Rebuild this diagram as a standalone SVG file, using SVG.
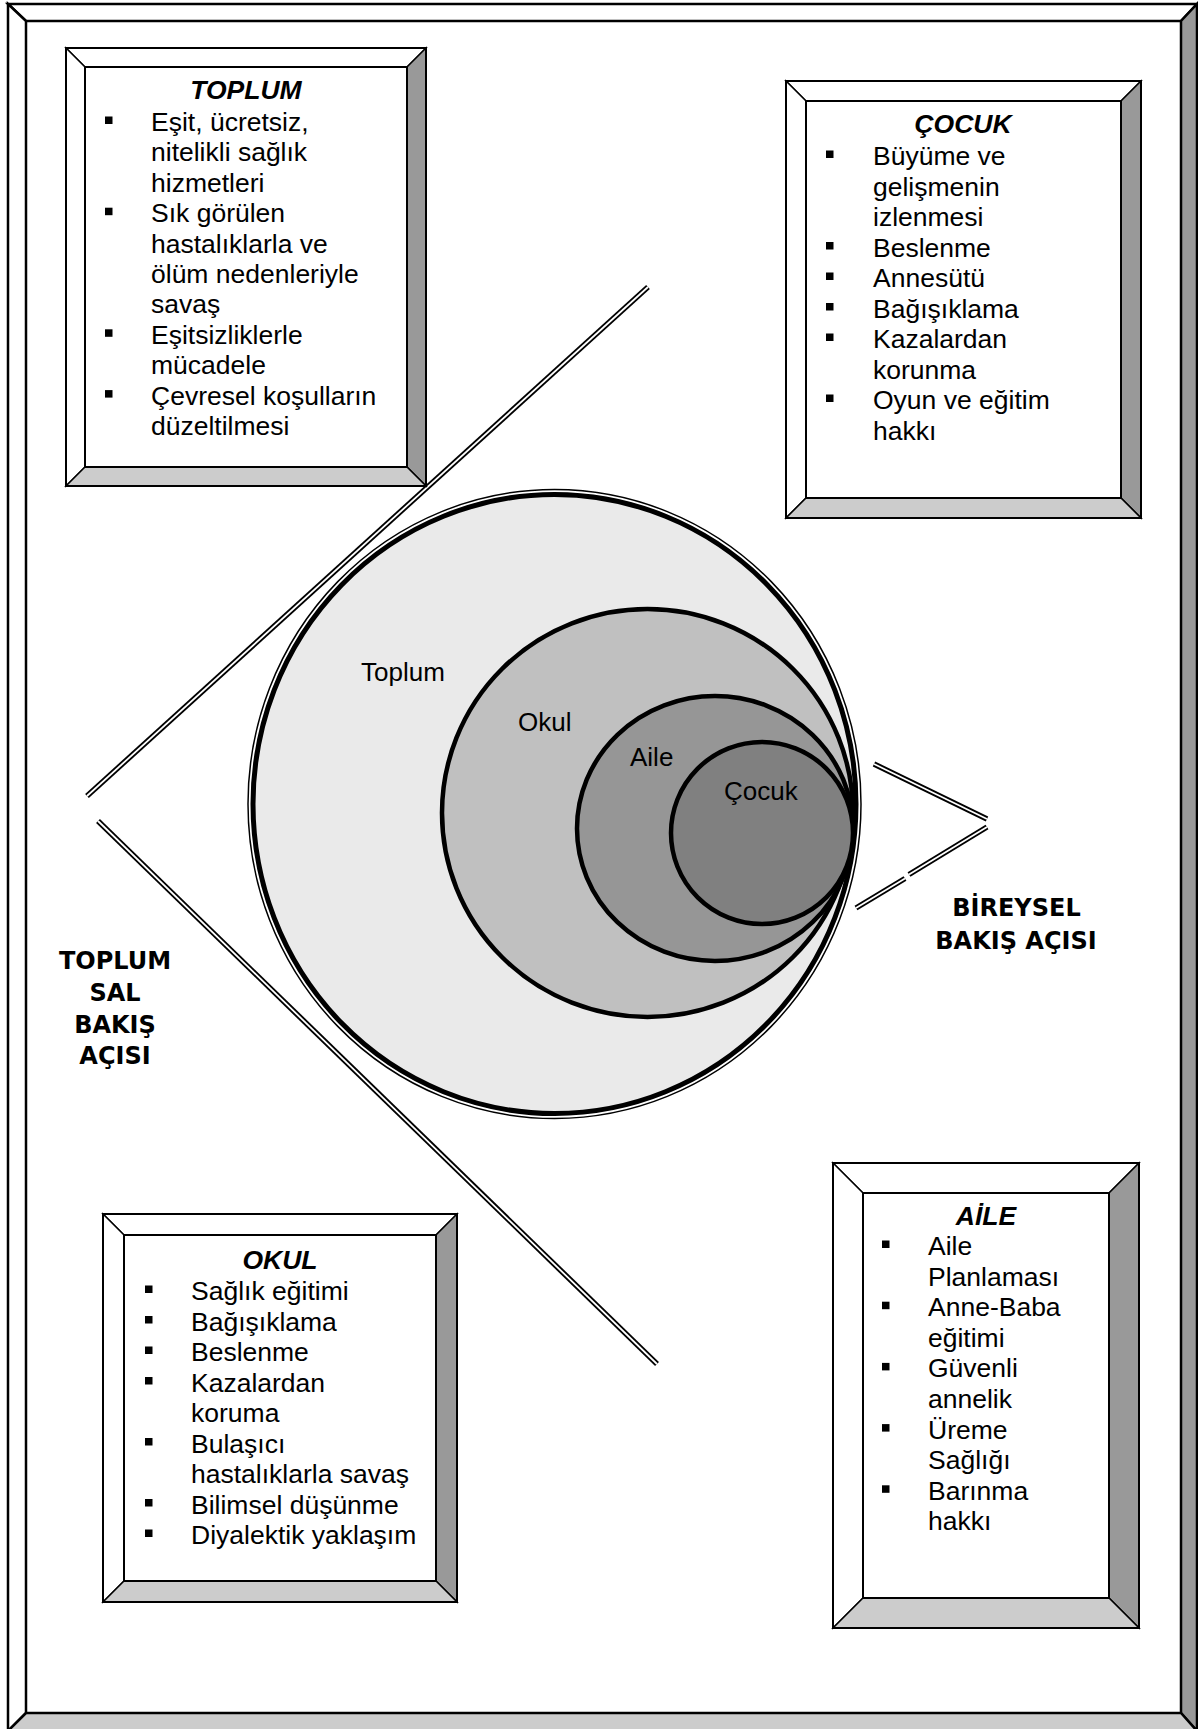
<svg xmlns="http://www.w3.org/2000/svg" width="1198" height="1729" viewBox="0 0 1198 1729">
<style>
.bv{stroke:#000;stroke-width:1.5;stroke-linejoin:miter}
.lt{fill:#fff}
.rt{fill:#999}
.bt{fill:#ccc}
.ol{fill:none;stroke:#000;stroke-width:2}
.fr{stroke:#000;stroke-width:2.5}
.t{font-family:"Liberation Sans",Arial,sans-serif;font-size:26.5px;fill:#000}
.ttl{font-family:"Liberation Sans",Arial,sans-serif;font-size:26.5px;font-weight:bold;font-style:italic;text-anchor:middle;fill:#000}
.cl{font-family:"Liberation Sans",Arial,sans-serif;font-size:26px;fill:#000}
.big{font-family:"DejaVu Sans",Verdana,sans-serif;font-size:24px;font-weight:bold;text-anchor:middle;fill:#000}
.dlo{fill:none;stroke:#000;stroke-width:5.5}
.dli{fill:none;stroke:#fff;stroke-width:1.8}
.el{stroke:#000;stroke-width:4.5}
</style>
<rect x="0" y="0" width="1198" height="1729" fill="#fff"/>

<g id="frame">
<polygon class="lt fr" points="8,4 1197,4 1181,21 26,21"/>
<polygon class="lt fr" points="8,4 26,21 26,1713 8,1731"/>
<polygon class="rt fr" points="1197,4 1197,1731 1181,1713 1181,21"/>
<polygon class="bt fr" points="8,1731 1197,1731 1181,1713 26,1713"/>
</g>

<g id="connectors">
<path class="dlo" d="M87,796 L648,287"/>
<path class="dli" d="M87,796 L648,287"/>
<path class="dlo" d="M98,821 L657,1364"/>
<path class="dli" d="M98,821 L657,1364"/>
<path class="dlo" d="M874,764 L987,819"/>
<path class="dli" d="M874,764 L987,819"/>
<path class="dlo" d="M987,827 L909,874.5"/>
<path class="dli" d="M987,827 L909,874.5"/>
<path class="dlo" d="M905,878.5 L856,908"/>
<path class="dli" d="M905,878.5 L856,908"/>
</g>

<g id="circle-toplum">
<ellipse cx="554.5" cy="804" rx="306.5" ry="314.5" fill="none" stroke="#000" stroke-width="1.5"/>
<ellipse cx="554.5" cy="804" rx="301.5" ry="309.5" fill="#eaeaea" stroke="#000" stroke-width="5"/>
<text class="cl" x="361" y="681">Toplum</text>
</g>
<g id="circle-okul">
<ellipse class="el" cx="647.5" cy="813" rx="205.5" ry="204" fill="#c0c0c0"/>
<text class="cl" x="518" y="731">Okul</text>
</g>
<g id="circle-aile">
<ellipse class="el" cx="715" cy="828.5" rx="138" ry="132.5" fill="#969696"/>
<text class="cl" x="630" y="766">Aile</text>
</g>
<g id="circle-cocuk">
<ellipse class="el" cx="762" cy="833" rx="91" ry="91" fill="#808080"/>
<text class="cl" x="724" y="800">Çocuk</text>
</g>

<g id="box-toplum">
<polygon class="bv lt" points="66,48 426,48 407,67 85,67"/>
<polygon class="bv lt" points="66,48 85,67 85,467 66,486"/>
<polygon class="bv rt" points="426,48 426,486 407,467 407,67"/>
<polygon class="bv bt" points="66,486 426,486 407,467 85,467"/>
<rect class="ol" x="85" y="67" width="322" height="400" fill="#fff"/>
<rect class="ol" x="66" y="48" width="360" height="438"/>
<text class="ttl" x="246" y="99">TOPLUM</text>
<rect x="105" y="116.5" width="7.5" height="7.5"/>
<rect x="105" y="207.7" width="7.5" height="7.5"/>
<rect x="105" y="329.3" width="7.5" height="7.5"/>
<rect x="105" y="390.1" width="7.5" height="7.5"/>
<text class="t" x="151" y="131">Eşit, ücretsiz,</text>
<text class="t" x="151" y="161.4">nitelikli sağlık</text>
<text class="t" x="151" y="191.8">hizmetleri</text>
<text class="t" x="151" y="222.2">Sık görülen</text>
<text class="t" x="151" y="252.6">hastalıklarla ve</text>
<text class="t" x="151" y="283">ölüm nedenleriyle</text>
<text class="t" x="151" y="313.4">savaş</text>
<text class="t" x="151" y="343.8">Eşitsizliklerle</text>
<text class="t" x="151" y="374.2">mücadele</text>
<text class="t" x="151" y="404.6">Çevresel koşulların</text>
<text class="t" x="151" y="435">düzeltilmesi</text>
</g>

<g id="box-cocuk">
<polygon class="bv lt" points="786,81 1141,81 1121,101 806,101"/>
<polygon class="bv lt" points="786,81 806,101 806,498 786,518"/>
<polygon class="bv rt" points="1141,81 1141,518 1121,498 1121,101"/>
<polygon class="bv bt" points="786,518 1141,518 1121,498 806,498"/>
<rect class="ol" x="806" y="101" width="315" height="397" fill="#fff"/>
<rect class="ol" x="786" y="81" width="355" height="437"/>
<text class="ttl" x="963" y="133">ÇOCUK</text>
<rect x="826" y="150.5" width="7.5" height="7.5"/>
<rect x="826" y="242" width="7.5" height="7.5"/>
<rect x="826" y="272.5" width="7.5" height="7.5"/>
<rect x="826" y="303" width="7.5" height="7.5"/>
<rect x="826" y="333.5" width="7.5" height="7.5"/>
<rect x="826" y="394.5" width="7.5" height="7.5"/>
<text class="t" x="873" y="165">Büyüme ve</text>
<text class="t" x="873" y="195.5">gelişmenin</text>
<text class="t" x="873" y="226">izlenmesi</text>
<text class="t" x="873" y="256.5">Beslenme</text>
<text class="t" x="873" y="287">Annesütü</text>
<text class="t" x="873" y="317.5">Bağışıklama</text>
<text class="t" x="873" y="348">Kazalardan</text>
<text class="t" x="873" y="378.5">korunma</text>
<text class="t" x="873" y="409">Oyun ve eğitim</text>
<text class="t" x="873" y="439.5">hakkı</text>
</g>

<g id="box-okul">
<polygon class="bv lt" points="103,1214 457,1214 436,1235 124,1235"/>
<polygon class="bv lt" points="103,1214 124,1235 124,1581 103,1602"/>
<polygon class="bv rt" points="457,1214 457,1602 436,1581 436,1235"/>
<polygon class="bv bt" points="103,1602 457,1602 436,1581 124,1581"/>
<rect class="ol" x="124" y="1235" width="312" height="346" fill="#fff"/>
<rect class="ol" x="103" y="1214" width="354" height="388"/>
<text class="ttl" x="280" y="1269">OKUL</text>
<rect x="145" y="1285.5" width="7.5" height="7.5"/>
<rect x="145" y="1316" width="7.5" height="7.5"/>
<rect x="145" y="1346.5" width="7.5" height="7.5"/>
<rect x="145" y="1377" width="7.5" height="7.5"/>
<rect x="145" y="1438" width="7.5" height="7.5"/>
<rect x="145" y="1499" width="7.5" height="7.5"/>
<rect x="145" y="1529.5" width="7.5" height="7.5"/>
<text class="t" x="191" y="1300">Sağlık eğitimi</text>
<text class="t" x="191" y="1330.5">Bağışıklama</text>
<text class="t" x="191" y="1361">Beslenme</text>
<text class="t" x="191" y="1391.5">Kazalardan</text>
<text class="t" x="191" y="1422">koruma</text>
<text class="t" x="191" y="1452.5">Bulaşıcı</text>
<text class="t" x="191" y="1483">hastalıklarla savaş</text>
<text class="t" x="191" y="1513.5">Bilimsel düşünme</text>
<text class="t" x="191" y="1544">Diyalektik yaklaşım</text>
</g>

<g id="box-aile">
<polygon class="bv lt" points="833,1163 1139,1163 1109,1193 863,1193"/>
<polygon class="bv lt" points="833,1163 863,1193 863,1598 833,1628"/>
<polygon class="bv rt" points="1139,1163 1139,1628 1109,1598 1109,1193"/>
<polygon class="bv bt" points="833,1628 1139,1628 1109,1598 863,1598"/>
<rect class="ol" x="863" y="1193" width="246" height="405" fill="#fff"/>
<rect class="ol" x="833" y="1163" width="306" height="465"/>
<text class="ttl" x="986" y="1225">AİLE</text>
<rect x="882" y="1240.5" width="7.5" height="7.5"/>
<rect x="882" y="1301.7" width="7.5" height="7.5"/>
<rect x="882" y="1362.9" width="7.5" height="7.5"/>
<rect x="882" y="1424.1" width="7.5" height="7.5"/>
<rect x="882" y="1485.3" width="7.5" height="7.5"/>
<text class="t" x="928" y="1255">Aile</text>
<text class="t" x="928" y="1285.6">Planlaması</text>
<text class="t" x="928" y="1316.2">Anne-Baba</text>
<text class="t" x="928" y="1346.8">eğitimi</text>
<text class="t" x="928" y="1377.4">Güvenli</text>
<text class="t" x="928" y="1408">annelik</text>
<text class="t" x="928" y="1438.6">Üreme</text>
<text class="t" x="928" y="1469.2">Sağlığı</text>
<text class="t" x="928" y="1499.8">Barınma</text>
<text class="t" x="928" y="1530.4">hakkı</text>
</g>

<g id="label-toplumsal">
<text class="big" x="115" y="969">TOPLUM</text>
<text class="big" x="115" y="1000.5">SAL</text>
<text class="big" x="115" y="1032.5">BAKIŞ</text>
<text class="big" x="115" y="1064">AÇISI</text>
</g>
<g id="label-bireysel">
<text class="big" x="1016.5" y="916">BİREYSEL</text>
<text class="big" x="1016" y="949">BAKIŞ AÇISI</text>
</g>
</svg>
